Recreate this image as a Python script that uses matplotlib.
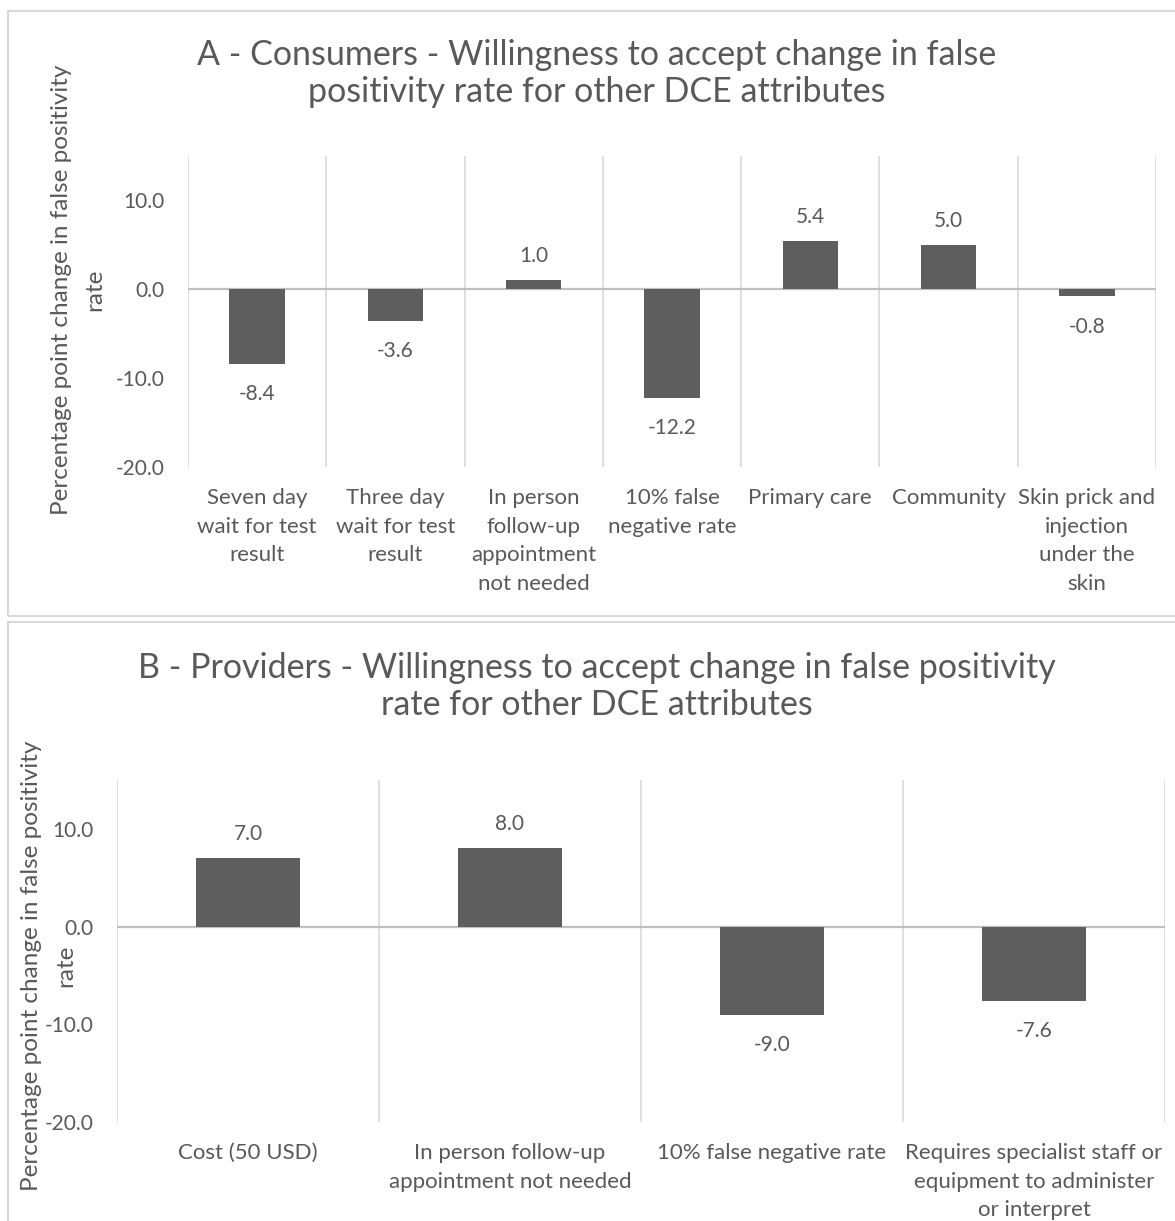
import matplotlib.pyplot as plt
from matplotlib.patches import Rectangle

# Willingness to accept change in false positivity rate (percentage points)
consumer_attrs = ['Seven day\nwait for test\nresult', 'Three day\nwait for test\nresult',
                  'In person\nfollow-up\nappointment\nnot needed', '10% false\nnegative rate',
                  'Primary care', 'Community', 'Skin prick and\ninjection\nunder the\nskin']
consumer_wta = [-8.4, -3.6, 1.0, -12.2, 5.4, 5.0, -0.8]

provider_attrs = ['Cost (50 USD)', 'In person follow-up\nappointment not needed',
                  '10% false negative rate',
                  'Requires specialist staff or\nequipment to administer\nor interpret']
provider_wta = [7.0, 8.0, -9.0, -7.6]

y_ticks = [-20, -10, 0, 10]
ylabel_lines = ['Percentage point change in false positivity', 'rate']

W, H = 1175, 1221
TEXT = '#595959'
BAR = '#5e5e5e'
GRID = '#d9d9d9'

plt.rcParams['font.family'] = ['Lato', 'DejaVu Sans']


def px_rect(left, top, right, bottom):
    return [left / W, 1 - bottom / H, (right - left) / W, (bottom - top) / H]


def draw_panel(fig, box, plot_px, labels, values, title_lines, title_base, ylab_base, ylab_mid):
    # light frame around the chart
    fig.patches.append(Rectangle((box[0] / W, 1 - box[3] / H), (box[2] - box[0]) / W,
                                 (box[3] - box[1]) / H, transform=fig.transFigure,
                                 fill=False, ec=GRID, lw=1.5))
    ax = fig.add_axes(px_rect(*plot_px))
    n = len(values)
    ax.bar(range(n), values, width=0.4, color=BAR, zorder=3)
    ax.set_xlim(-0.5, n - 0.5)
    ax.set_ylim(-20, 15)
    for k in range(n + 1):
        ax.axvline(k - 0.5, color=GRID, lw=1.2, zorder=1)
    ax.axhline(0, color='#bfbfbf', lw=1.6, zorder=2)
    for s in ax.spines.values():
        s.set_visible(False)

    ax.set_yticks(y_ticks)
    ax.set_yticklabels([f'{v:.1f}' for v in y_ticks], fontsize=15)
    ax.set_xticks(range(n))
    ax.set_xticklabels(labels, linespacing=1.55, fontsize=16)
    ax.tick_params(length=0, colors=TEXT)
    ax.tick_params(axis='y', pad=17)
    ax.tick_params(axis='x', pad=15)

    for i, v in enumerate(values):
        off = 13 if v >= 0 else -26
        ax.annotate(f'{v:.1f}', (i, v), xytext=(0, off), textcoords='offset points',
                    ha='center', va='baseline', fontsize=15, color=TEXT)

    for line, yb in zip(title_lines, title_base):
        fig.text(597 / W, 1 - yb / H, line, ha='center', va='baseline',
                 fontsize=24.5, color=TEXT)
    for line, xb in zip(ylabel_lines, ylab_base):
        fig.text(xb / W, 1 - ylab_mid / H, line, rotation=90, rotation_mode='anchor',
                 ha='center', va='baseline', fontsize=17.5, color=TEXT)
    return ax


fig = plt.figure(figsize=(W / 100, H / 100), dpi=100)

draw_panel(fig, (8, 11, 1190, 616), (188, 156, 1156, 467), consumer_attrs, consumer_wta,
           ['A - Consumers - Willingness to accept change in false',
            'positivity rate for other DCE attributes'],
           [65, 102], [68, 101], 290)

draw_panel(fig, (8, 622, 1190, 1235), (117, 780, 1165, 1122), provider_attrs, provider_wta,
           ['B - Providers - Willingness to accept change in false positivity',
            'rate for other DCE attributes'],
           [678, 715], [38, 72], 966)

fig.savefig('out.png', dpi=100)
